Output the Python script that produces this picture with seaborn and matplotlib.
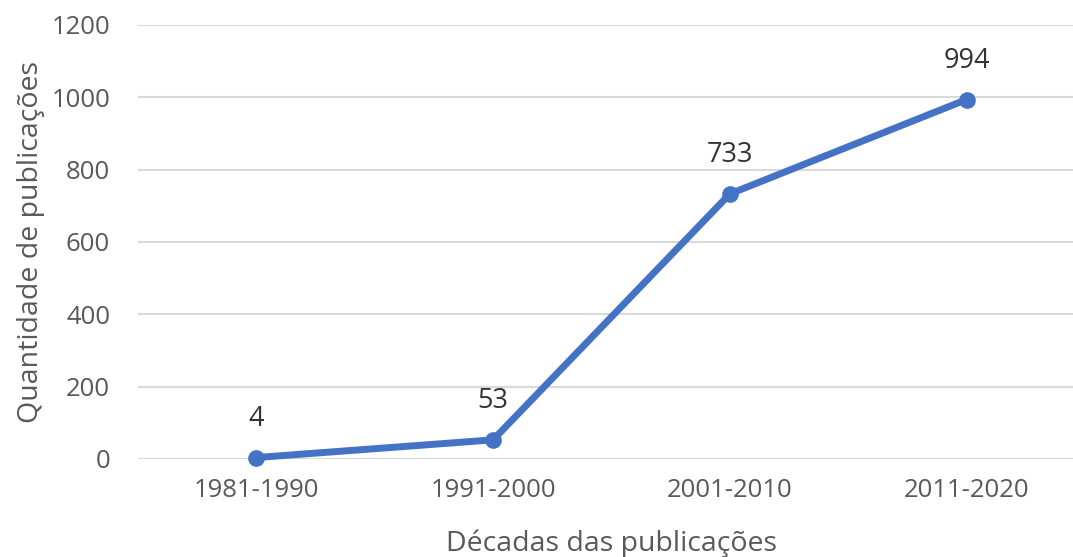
import numpy as np
import pandas as pd
import matplotlib.pyplot as plt
import seaborn as sns

decadas = ['1981-1990', '1991-2000', '2001-2010', '2011-2020']
publicacoes = [4, 53, 733, 994]
yticks = [0, 200, 400, 600, 800, 1000, 1200]

sns.set_style("white")
plt.rcParams['font.family'] = ['Open Sans', 'DejaVu Sans']

cinza = '#595959'
azul = '#4472C4'

fig = plt.figure(figsize=(10.73, 5.57), dpi=100)
ax = fig.add_axes([138 / 1073, 1 - 459 / 557, 947 / 1073, 434 / 557])

df = pd.DataFrame({'Década': decadas, 'Publicações': publicacoes})
sns.lineplot(data=df, x='Década', y='Publicações', ax=ax, color=azul,
             linewidth=5, marker='o', markersize=12, markeredgewidth=0,
             clip_on=False, zorder=3)

for i, v in enumerate(publicacoes):
    ax.annotate(str(v), (i, v), xytext=(0, 28), textcoords='offset points',
                ha='center', va='center', fontsize=19.5, color='#333333')

ax.set_xlim(-0.5, 3.5)
ax.set_ylim(0, 1200)
ax.set_yticks(yticks)
ax.grid(axis='y', color='#D9D9D9', linewidth=1.5)
ax.set_axisbelow(True)
for s in ax.spines.values():
    s.set_visible(False)
ax.tick_params(axis='y', length=0, pad=20, labelsize=18.5, labelcolor=cinza)
ax.tick_params(axis='x', length=0, pad=14, labelsize=18.5, labelcolor=cinza)

ax.set_xlabel('Décadas das publicações', fontsize=20.5, color=cinza)
ax.set_ylabel('Quantidade de publicações', fontsize=20.5, color=cinza)
ax.xaxis.set_label_coords((612 - 138) / 947, -70 / 434)
ax.yaxis.set_label_coords(-93 / 947, 217 / 434)

fig.savefig('out.png', dpi=100)
